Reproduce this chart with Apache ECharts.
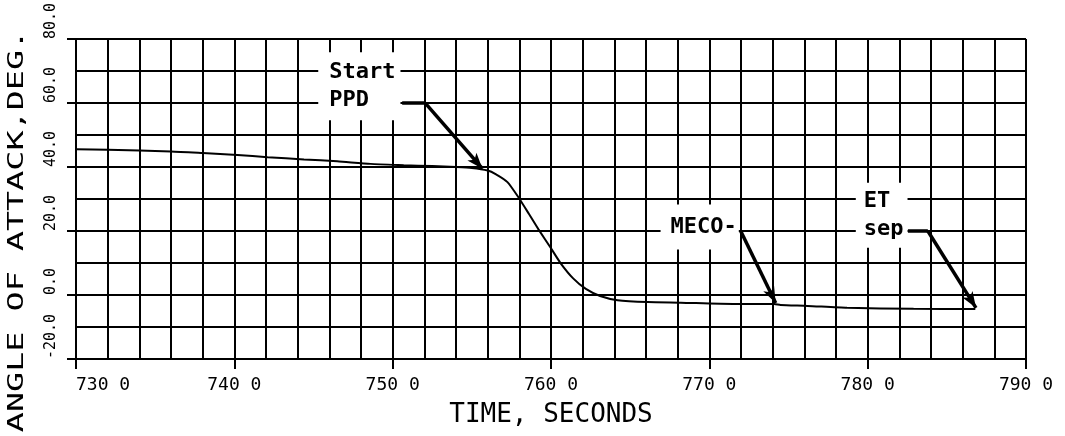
<!DOCTYPE html>
<html>
<head>
<meta charset="utf-8">
<script src="https://cdn.jsdelivr.net/npm/echarts@6/dist/echarts.min.js"></script>
<style>
html,body{margin:0;padding:0;background:#fff;}
#chart{width:1065px;height:436px;}
</style>
</head>
<body>
<div id="chart"></div>
<script>
// ---- data ----
const timeSec = [730.0, 732.0, 736.0, 738.0, 740.2, 742.1, 744.4, 746.5, 748.6, 750.7, 752.5, 754.0, 755.0, 756.0, 756.5, 757.25, 757.95, 758.6, 759.2, 760.0, 760.6, 761.4, 762.2, 763.1, 764.2, 766.1, 768.2, 771.5, 774.1, 774.5, 776.2, 778.7, 782.9, 786.8];
const alphaDeg = [45.6, 45.4, 44.9, 44.4, 43.8, 43.1, 42.4, 41.8, 41.0, 40.6, 40.3, 40.0, 39.7, 38.9, 37.8, 35.3, 30.5, 25.4, 20.6, 14.6, 10.0, 5.2, 1.9, -0.3, -1.6, -2.2, -2.4, -2.8, -2.8, -3.1, -3.4, -4.0, -4.3, -4.4];

const xTickValues = [730, 740, 750, 760, 770, 780, 790];
const xTickLabels = ['730 0', '740 0', '750 0', '760 0', '770 0', '780 0', '790 0'];
const yTickValues = [-20, 0, 20, 40, 60, 80];
const yTickLabels = ['-20.0', '0.0', '20.0', '40.0', '60.0', '80.0'];

// annotation leaders: [time, angle] points, last point is the arrow tip
const startPpdLeader = [[750.6, 60], [752.06, 60], [755.67, 39.5]];
const mecoLeader = [[771.98, 20], [774.19, -2.5]];
const etSepLeader = [[782.54, 20], [783.8, 20], [786.84, -4.0]];

// annotation texts and their anchor (left edge of text box) in [time, angle]
const noteTexts = ['Start\nPPD', 'MECO-', 'ET\nsep'];
const noteAnchors = [[745.3, 65.3], [766.92, 21.26], [779.25, 24.94]];

const xTitle = 'TIME, SECONDS';
const yTitle = 'ANGLE OF ATTACK,DEG.';

// ---- chart ----
const MONO = "'DejaVu Sans Mono', 'Liberation Mono', monospace";
const notePaddings = [[12, 5, 0, 11], [11, 2, 6, 10], [6, 4, 3, 8]];

function leaderSegments(pts) {
  const segs = [];
  for (let i = 0; i < pts.length - 1; i++) {
    const last = i === pts.length - 2;
    segs.push([
      { coord: pts[i], symbol: 'none' },
      { coord: pts[i + 1], symbol: last ? 'arrow' : 'none', symbolSize: [9, 16] }
    ]);
  }
  return segs;
}

const chart = echarts.init(document.getElementById('chart'), null, { renderer: 'canvas' });
const gridColor = '#000';

chart.setOption({
  backgroundColor: '#fff',
  animation: false,
  grid: { left: 76, right: 39, top: 33, bottom: 77 },
  xAxis: {
    type: 'value', min: 730, max: 790, interval: 10,
    axisLine: { show: true, onZero: false, lineStyle: { color: gridColor, width: 2 } },
    axisTick: { show: true, length: 10, lineStyle: { color: gridColor, width: 2 } },
    axisLabel: {
      formatter: v => xTickLabels[xTickValues.indexOf(Math.round(v))] || '',
      fontFamily: MONO, fontSize: 18, color: '#000', margin: 17,
      alignMinLabel: 'left'
    },
    splitLine: { show: true, lineStyle: { color: gridColor, width: 2 } },
    minorTick: { show: false, splitNumber: 5 },
    minorSplitLine: { show: true, lineStyle: { color: gridColor, width: 2 } },
    name: xTitle, nameLocation: 'middle', nameGap: 43,
    nameTextStyle: { fontFamily: MONO, fontSize: 26, color: '#000' }
  },
  yAxis: {
    type: 'value', min: -20, max: 80, interval: 20,
    axisLine: { show: true, onZero: false, lineStyle: { color: gridColor, width: 2 } },
    axisTick: { show: true, length: 9, lineStyle: { color: gridColor, width: 2 } },
    axisLabel: {
      formatter: v => yTickLabels[yTickValues.indexOf(Math.round(v))] || '',
      fontFamily: MONO, fontSize: 15, color: '#000', margin: 17,
      rotate: 90, align: 'left', verticalAlign: 'bottom'
    },
    splitLine: { show: true, lineStyle: { color: gridColor, width: 2 } },
    minorTick: { show: false, splitNumber: 2 },
    minorSplitLine: { show: true, lineStyle: { color: gridColor, width: 2 } }
  },
  graphic: [{
    type: 'text', x: 17.5, y: 231, rotation: Math.PI / 2, scaleX: 1.63, scaleY: 1,
    style: { text: yTitle, font: "20.5px 'DejaVu Sans Mono'", fill: '#000', align: 'center', verticalAlign: 'middle' }
  }],
  series: [{
    type: 'line',
    data: timeSec.map((t, i) => [t, alphaDeg[i]]),
    showSymbol: false,
    smooth: 0.2,
    lineStyle: { color: '#000', width: 2 },
    z: 3,
    markLine: {
      silent: true,
      symbol: ['none', 'none'],
      label: { show: false },
      lineStyle: { type: 'solid', color: '#000', width: 3.5 },
      data: [].concat(leaderSegments(startPpdLeader), leaderSegments(mecoLeader), leaderSegments(etSepLeader))
    },
    markPoint: {
      silent: true,
      symbol: 'rect', symbolSize: 0,
      data: noteAnchors.map((c, i) => ({
        coord: c,
        label: {
          show: true, position: 'right', distance: 0,
          formatter: noteTexts[i],
          fontFamily: MONO, fontWeight: 'bold', fontSize: 22, lineHeight: 28,
          color: '#000', backgroundColor: '#fff', padding: notePaddings[i], align: 'left'
        }
      }))
    }
  }]
});
</script>
</body>
</html>
